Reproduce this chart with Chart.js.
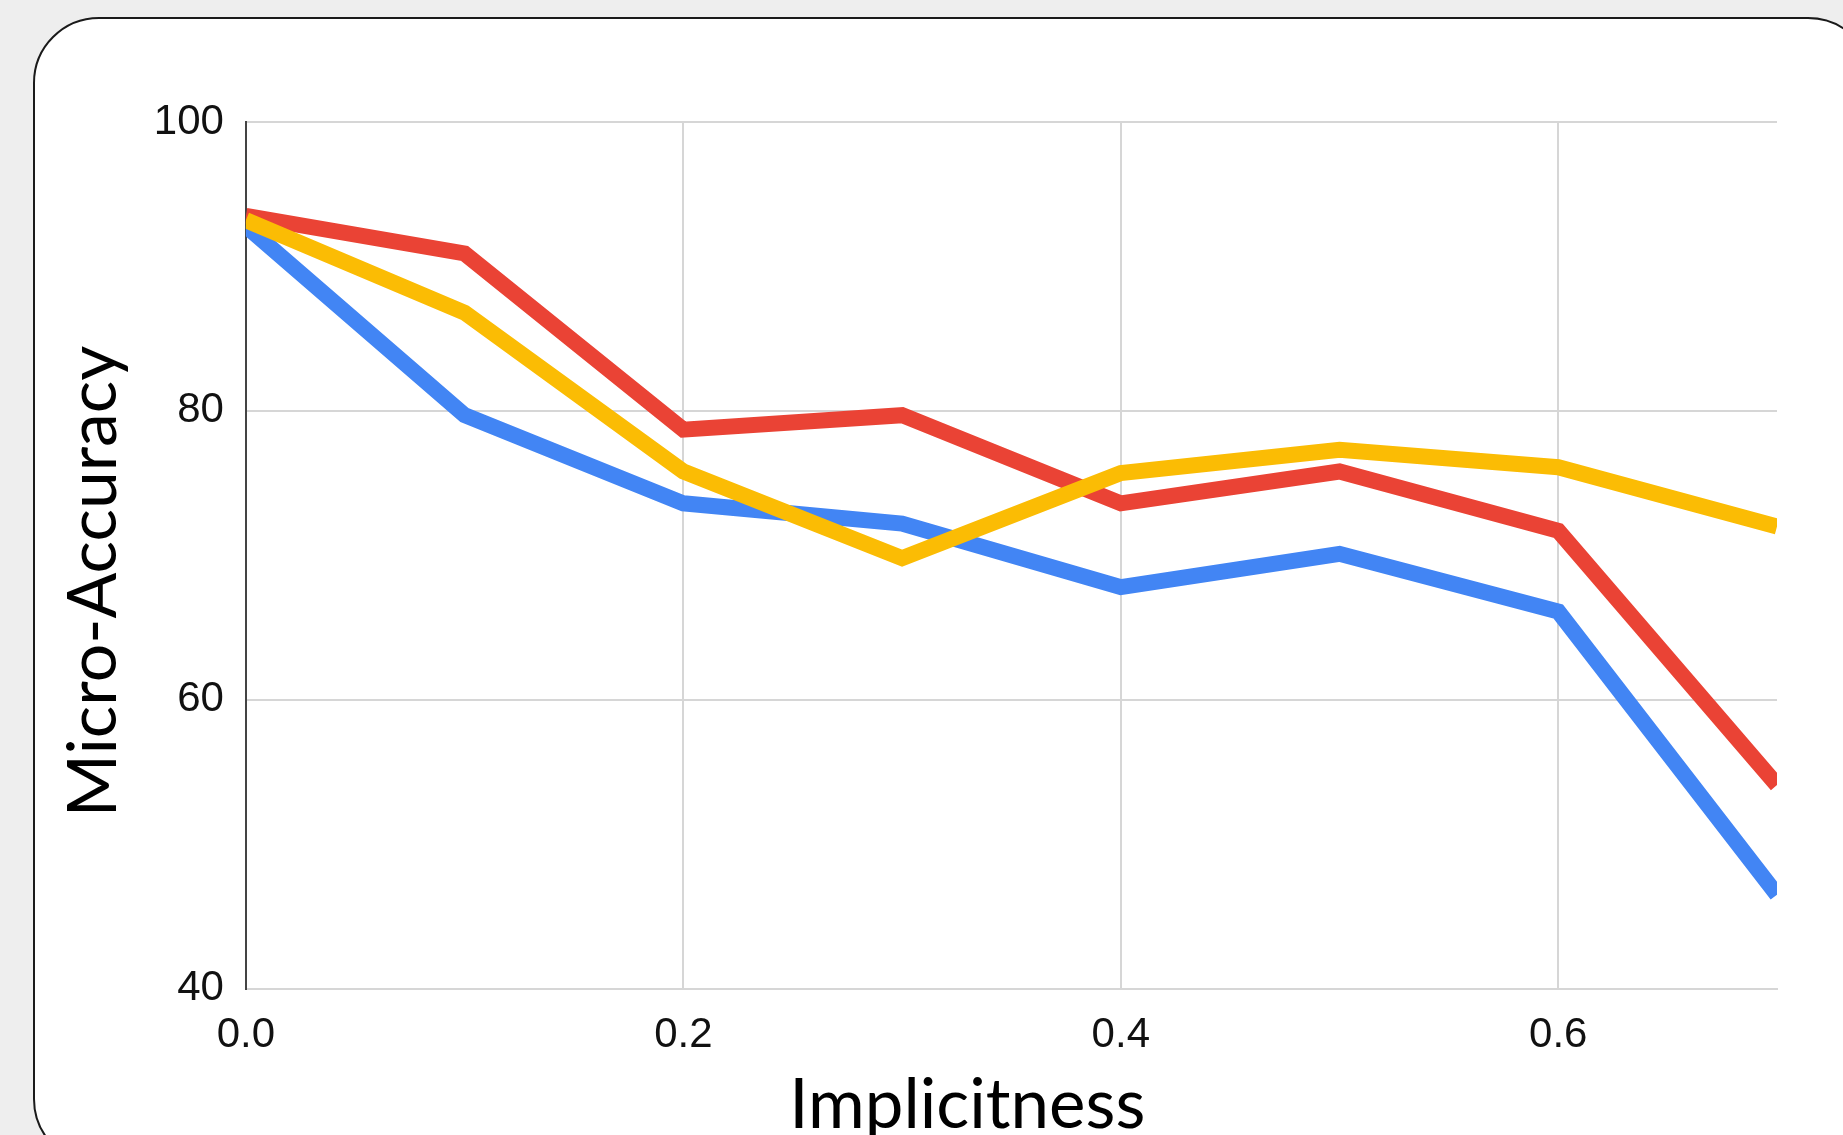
<!DOCTYPE html>
<html>
<head>
<meta charset="utf-8">
<script src="https://cdn.jsdelivr.net/npm/chart.js@4/dist/chart.umd.min.js"></script>
<style>
  html, body { margin: 0; padding: 0; background: #eeeeee; overflow: hidden; }
  body { width: 1843px; height: 1135px; position: relative; }
  #card {
    position: absolute; left: 33px; top: 17px; width: 1837px; height: 1144px;
    background: #fff; border: 2px solid #1a1a1a; border-radius: 66px;
  }
  #myChart { position: absolute; left: 0; top: 0; }
</style>
</head>
<body>
<div id="card"></div>
<canvas id="myChart" width="1843" height="1135"></canvas>
<script>
var implicitness = [0.0, 0.1, 0.2, 0.3, 0.4, 0.5, 0.6, 0.7];
var blueVals = [92.8, 79.7, 73.6, 72.2, 67.8, 70.1, 66.1, 46.5];
var redVals = [93.5, 90.9, 78.7, 79.7, 73.6, 75.8, 71.7, 54.1];
var yellowVals = [93.2, 86.8, 75.8, 69.8, 75.7, 77.3, 76.1, 72.0];
var xTicks = [0.0, 0.2, 0.4, 0.6];
var xTickLabels = ['0.0', '0.2', '0.4', '0.6'];
var yTicks = [40, 60, 80, 100];

// trailing spaces nudge the centred titles off-centre like the original
var xTitle = 'Implicitness' + '     ';
var yTitle = 'Micro-Accuracy' + '   ';

function points(vals) {
  var out = [];
  for (var i = 0; i < vals.length; i++) {
    out.push({x: implicitness[i], y: vals[i]});
  }
  return out;
}

function line(vals, color, order) {
  return {
    data: points(vals),
    borderColor: color,
    backgroundColor: 'transparent',
    borderWidth: 16,
    pointRadius: 0,
    tension: 0,
    order: order
  };
}

var tickFont = { family: '"Liberation Sans", Arial, sans-serif', size: 42 };

var ctx = document.getElementById('myChart').getContext('2d');

var chart = new Chart(ctx, {
  type: 'line',
  data: {
    datasets: [
      line(blueVals, '#4285F4', 3),
      line(redVals, '#EA4335', 2),
      line(yellowVals, '#FBBC04', 1)
    ]
  },
  options: {
    responsive: false,
    animation: false,
    devicePixelRatio: 1,
    layout: { padding: { left: 0, right: 66, top: 122, bottom: 0 } },
    plugins: { legend: { display: false }, tooltip: { enabled: false } },
    scales: {
      x: {
        type: 'linear',
        min: 0,
        max: 0.7,
        afterBuildTicks: function(axis) {
          axis.ticks = xTicks.map(function(v) { return {value: v}; });
        },
        ticks: {
          padding: 22,
          color: '#111',
          font: tickFont,
          callback: function(v) {
            var i = xTicks.indexOf(v);
            return i >= 0 ? xTickLabels[i] : '';
          }
        },
        grid: { color: '#d6d6d6', lineWidth: 2, drawTicks: false },
        border: { color: '#d6d6d6', width: 2 },
        title: {
          display: true,
          text: xTitle,
          color: '#000',
          font: { family: 'Lato, "Open Sans", sans-serif', size: 69, lineHeight: '30px' },
          padding: { top: 8, bottom: 14 }
        }
      },
      y: {
        min: 40,
        max: 100,
        afterBuildTicks: function(axis) {
          axis.ticks = yTicks.map(function(v) { return {value: v}; });
        },
        ticks: {
          padding: 22,
          color: '#111',
          font: tickFont
        },
        grid: { color: '#d6d6d6', lineWidth: 2, drawTicks: false },
        border: { color: '#444', width: 2 },
        title: {
          display: true,
          text: yTitle,
          color: '#000',
          font: { family: 'Lato, "Open Sans", sans-serif', size: 68, lineHeight: 1.1 },
          padding: { top: 57, bottom: 0 }
        }
      }
    }
  }
});
</script>
</body>
</html>
